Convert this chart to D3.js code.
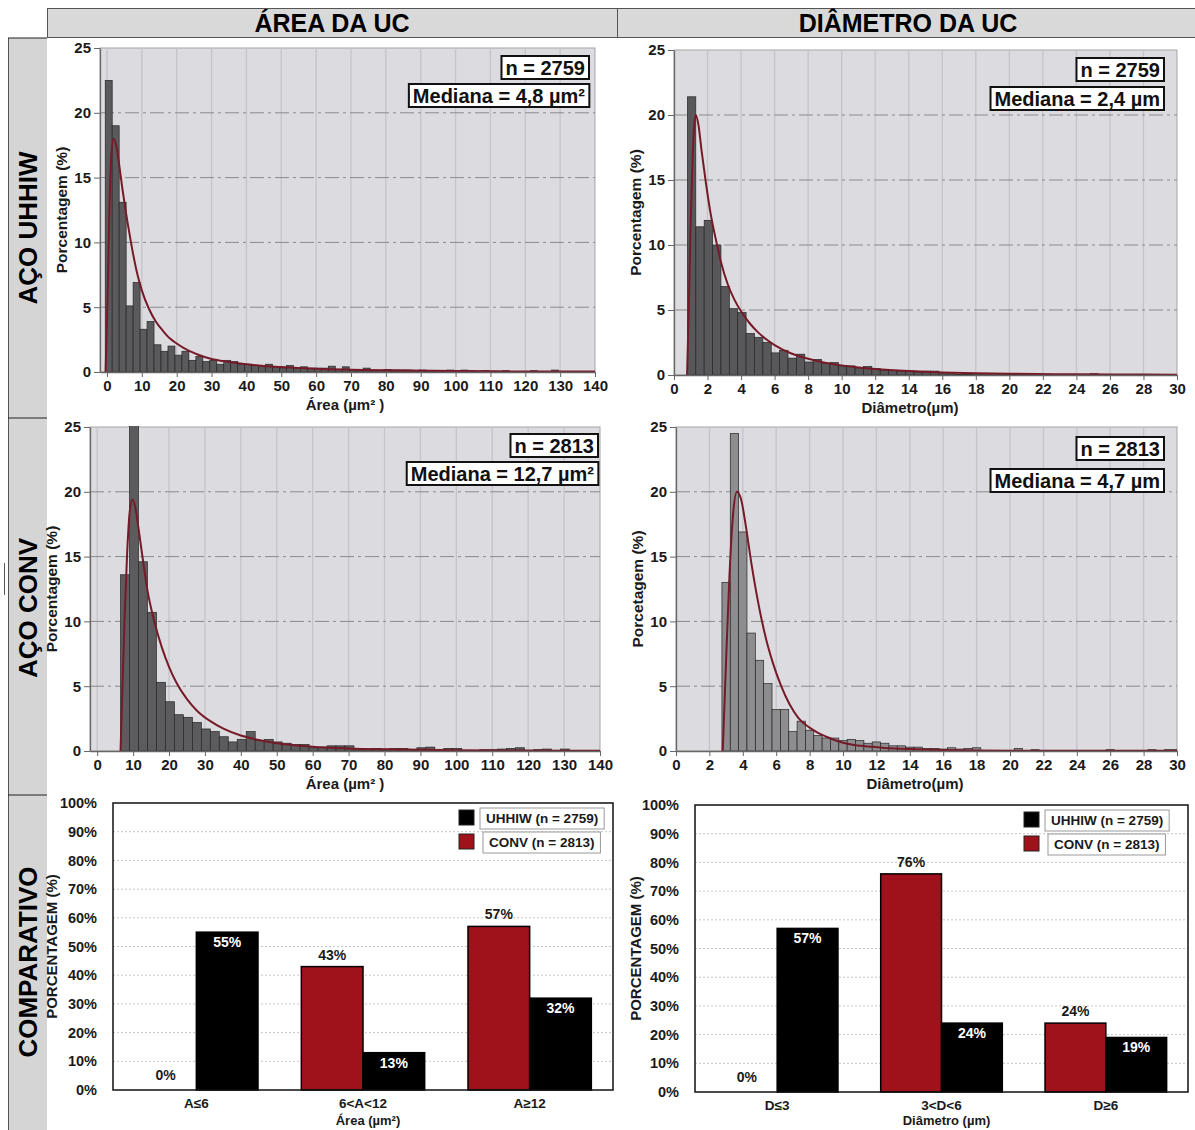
<!DOCTYPE html>
<html>
<head>
<meta charset="utf-8">
<script src="https://cdn.jsdelivr.net/npm/d3@7"></script>
<style>
  body { margin: 0; background: #fff; }
  text { font-family: "Liberation Sans", Arial, Helvetica, sans-serif; font-weight: bold; }
</style>
</head>
<body>
<svg id="fig" width="1195" height="1130"></svg>
<script>
// ---- histogram data (percent per bin) ----
const areaTicks = d3.range(0, 141, 10);
const diamTicks = d3.range(0, 31, 2);
const pctTicks = [0, 5, 10, 15, 20, 25];

// AÇO UHHIW - área, bins of 2 µm² from -0.5
const areaUhhiwStart = -0.5, areaUhhiwWidth = 2;
const areaUhhiwPct = [22.5, 19.0, 13.1, 5.1, 6.9, 3.3, 3.9, 2.1, 1.6, 2.0,
  1.3, 1.6, 0.9, 1.2, 0.8, 0.9, 0.6, 0.9, 0.8, 0.6,
  0.6, 0.5, 0.5, 0.6, 0.4, 0.3, 0.5, 0.3, 0.4, 0.3,
  0.3, 0.3, 0.45, 0.2, 0.4, 0.2, 0.2, 0.3, 0.15, 0.15,
  0.2, 0.15, 0.15, 0.15, 0.1, 0.15, 0.1, 0.1, 0.1, 0.15,
  0.1, 0.15, 0.1, 0.05, 0.1, 0.05, 0.05, 0.1, 0.05, 0.05,
  0.05, 0.1, 0.05, 0.05, 0.15, 0.05, 0.05, 0.05, 0.05, 0.05];
const areaUhhiwFit = [[-0.4, 0], [0.2, 6], [0.7, 12.5], [1.2, 16.5], [1.9, 18], [2.7, 17.4], [3.5, 16],
  [4.5, 14], [5.5, 12.2], [6.5, 10.6], [7.5, 9.1], [8.5, 7.8], [10, 6.3], [12, 4.9], [14, 3.9],
  [16, 3.2], [18, 2.6], [20, 2.2], [23, 1.7], [26, 1.35], [30, 1.0], [35, 0.78], [40, 0.6],
  [45, 0.47], [50, 0.38], [60, 0.25], [70, 0.18], [80, 0.13], [100, 0.07], [120, 0.04], [140, 0.03]];

// AÇO UHHIW - diâmetro, bins of 0.5 µm from 0.8
const diamUhhiwStart = 0.8, diamUhhiwWidth = 0.5;
const diamUhhiwPct = [21.4, 11.4, 11.9, 10.0, 6.8, 5.1, 4.8, 3.2, 2.9, 2.5,
  1.7, 1.9, 1.3, 1.6, 1.0, 1.2, 0.9, 0.95, 0.7, 0.7,
  0.55, 0.65, 0.5, 0.35, 0.35, 0.3, 0.3, 0.2, 0.3, 0.3,
  0.1, 0.1, 0.05, 0.05, 0.1, 0.12, 0.1, 0.08, 0.05, 0.05,
  0.03, 0.1, 0.05, 0.03, 0.03, 0.02, 0.02, 0.02, 0.1, 0.02,
  0.02, 0.02, 0.02, 0.02, 0.02, 0.02, 0.02, 0.02];
const diamUhhiwFit = [[0.78, 0], [0.88, 5], [0.98, 11], [1.08, 15.5], [1.18, 18.7], [1.3, 20], [1.45, 19.3],
  [1.65, 17.2], [1.9, 14.8], [2.2, 12.3], [2.5, 10.4], [2.8, 8.7], [3.2, 7], [3.6, 5.8], [4, 4.9],
  [4.5, 4.0], [5, 3.3], [5.5, 2.75], [6, 2.3], [7, 1.65], [8, 1.25], [9, 0.95], [10, 0.74],
  [11, 0.58], [12, 0.46], [14, 0.3], [16, 0.2], [18, 0.14], [20, 0.1], [24, 0.05], [28, 0.03], [30, 0.02]];

// AÇO CONV - área, bins of 2.5 µm² from 6.5
const areaConvStart = 6.5, areaConvWidth = 2.5;
const areaConvPct = [13.6, 25.3, 14.6, 10.7, 5.3, 3.8, 2.8, 2.6, 2.2, 1.7,
  1.5, 1.1, 0.7, 0.9, 1.5, 0.8, 0.9, 0.7, 0.6, 0.5,
  0.5, 0.25, 0.3, 0.4, 0.4, 0.4, 0.2, 0.15, 0.2, 0.15,
  0.2, 0.2, 0.1, 0.25, 0.3, 0.1, 0.2, 0.2, 0.05, 0.05,
  0.1, 0.1, 0.15, 0.2, 0.25, 0.05, 0.1, 0.15, 0.05, 0.15,
  0.05, 0.02, 0.02];
const areaConvFit = [[6.5, 0], [7, 4.5], [7.6, 10], [8.3, 15], [9, 18.3], [9.8, 19.4], [10.6, 18.8],
  [11.5, 17.2], [12.5, 15.2], [14, 12.4], [16, 9.9], [18, 8], [20, 6.5], [22, 5.3], [25, 4],
  [28, 3.05], [31.5, 2.3], [35, 1.75], [40, 1.2], [45, 0.85], [50, 0.6], [55, 0.45], [60, 0.33],
  [70, 0.2], [80, 0.13], [100, 0.06], [120, 0.035], [140, 0.02]];

// AÇO CONV - diâmetro, bins of 0.5 µm from 2.75
const diamConvStart = 2.75, diamConvWidth = 0.5;
const diamConvPct = [13.0, 24.5, 16.9, 9.1, 7.0, 5.2, 3.2, 3.2, 1.5, 2.3,
  1.6, 1.2, 1.0, 1.0, 0.8, 0.9, 0.8, 0.6, 0.7, 0.6,
  0.4, 0.4, 0.3, 0.3, 0.2, 0.2, 0.15, 0.25, 0.15, 0.2,
  0.25, 0.05, 0.03, 0.03, 0.03, 0.2, 0.03, 0.1, 0.03, 0.05,
  0.02, 0.02, 0.02, 0.02, 0.05, 0.02, 0.1, 0.02, 0.02, 0.02,
  0.02, 0.1, 0.02, 0.1, 0.1];
const diamConvFit = [[2.8, 0], [3.0, 7], [3.2, 13.5], [3.4, 18], [3.65, 20], [3.9, 19.4], [4.2, 17.2],
  [4.5, 14.6], [4.8, 12.3], [5.1, 10.3], [5.4, 8.6], [5.8, 6.8], [6.3, 5.0], [6.8, 3.6], [7.3, 2.6],
  [8, 1.8], [8.5, 1.4], [9, 1.1], [9.7, 0.75], [10.5, 0.5], [11.5, 0.34], [12.5, 0.24], [14, 0.15],
  [16, 0.08], [18, 0.04], [22, 0.02], [30, 0.01]];

// ---- comparison data ----
const seriesNames = ["CONV", "UHHIW"];
const seriesLegend = ["UHHIW (n = 2759)", "CONV (n = 2813)"];
const areaCats = ["A≤6", "6<A<12", "A≥12"];
const areaCompUhhiw = [55, 13, 32];
const areaCompConv = [0, 43, 57];
const diamCats = ["D≤3", "3<D<6", "D≥6"];
const diamCompUhhiw = [57, 24, 19];
const diamCompConv = [0, 76, 24];

const svg = d3.select("#fig");
const RED = "#a0121b";

// ---- frame: headers and row labels ----
svg.append("rect").attr("x", 8).attr("y", 38).attr("width", 39).attr("height", 1100).attr("fill", "#d5d5d5");
svg.append("line").attr("x1", 8.5).attr("x2", 8.5).attr("y1", 38).attr("y2", 1130).attr("stroke", "#555");
[38, 418, 795].forEach(yy => {
  svg.append("line").attr("x1", 8).attr("x2", 47).attr("y1", yy).attr("y2", yy).attr("stroke", "#222").attr("stroke-width", 1.2);
});
svg.append("line").attr("x1", 4.5).attr("x2", 4.5).attr("y1", 563).attr("y2", 595).attr("stroke", "#556").attr("stroke-width", 1);

svg.append("rect").attr("x", 47.5).attr("y", 8.5).attr("width", 570).attr("height", 29).attr("fill", "#d9d9d9").attr("stroke", "#555");
svg.append("rect").attr("x", 617.5).attr("y", 8.5).attr("width", 590).attr("height", 29).attr("fill", "#d9d9d9").attr("stroke", "#555");
svg.append("text").attr("x", 332).attr("y", 32).attr("text-anchor", "middle").attr("font-size", 25).text("ÁREA DA UC");
svg.append("text").attr("x", 908).attr("y", 32).attr("text-anchor", "middle").attr("font-size", 25).text("DIÂMETRO DA UC");

[["AÇO UHHIW", 228], ["AÇO CONV", 608], ["COMPARATIVO", 962]].forEach(([t, cy]) => {
  svg.append("text").attr("transform", `translate(37,${cy}) rotate(-90)`)
    .attr("text-anchor", "middle").attr("font-size", 26).text(t);
});

// ---- histogram panels ----
function histPanel(o) {
  const x = d3.scaleLinear().domain(o.xDomain).range([o.left, o.right]);
  const y = d3.scaleLinear().domain([0, 25]).range([o.bottom, o.top]);
  const g = svg.append("g");
  const clipId = "clip-" + o.id;

  g.append("clipPath").attr("id", clipId).append("rect")
    .attr("x", o.left).attr("y", o.top - 1)
    .attr("width", o.right - o.left).attr("height", o.bottom - o.top + 1);

  g.append("rect")
    .attr("x", o.left).attr("y", o.top)
    .attr("width", o.right - o.left).attr("height", o.bottom - o.top)
    .attr("fill", "#dcdbe0").attr("stroke", "#a5a5a5");

  // vertical grid
  g.selectAll(".vgrid").data(o.ticks.filter(d => x(d) > o.left + 1 && x(d) < o.right - 1))
    .join("line")
    .attr("x1", d => x(d)).attr("x2", d => x(d))
    .attr("y1", o.top).attr("y2", o.bottom)
    .attr("stroke", "#c4c4c9").attr("stroke-width", 1.3);

  // horizontal dash-dot grid
  g.selectAll(".hgrid").data([5, 10, 15, 20])
    .join("line")
    .attr("x1", o.left).attr("x2", o.right)
    .attr("y1", d => y(d)).attr("y2", d => y(d))
    .attr("stroke", "#8a8a8a").attr("stroke-width", 1)
    .attr("stroke-dasharray", "14,4,3,4");

  const bins = o.values.map((v, i) => ({
    x0: o.binStart + i * o.binWidth,
    x1: o.binStart + (i + 1) * o.binWidth,
    v: v
  }));

  g.append("g").attr("clip-path", `url(#${clipId})`)
    .selectAll("rect").data(bins).join("rect")
    .attr("x", d => x(d.x0))
    .attr("width", d => x(d.x1) - x(d.x0))
    .attr("y", d => y(d.v))
    .attr("height", d => y(0) - y(d.v))
    .attr("fill", o.barColor)
    .attr("stroke", "#262626").attr("stroke-width", 0.7);

  g.append("path").datum(o.fit)
    .attr("clip-path", `url(#${clipId})`)
    .attr("d", d3.line().x(d => x(d[0])).y(d => y(d[1])).curve(d3.curveMonotoneX))
    .attr("fill", "none").attr("stroke", "#761a28").attr("stroke-width", 2);

  // axes
  const xAxis = g.append("g").attr("transform", `translate(0,${o.bottom})`)
    .call(d3.axisBottom(x).tickValues(o.ticks).tickSize(5).tickSizeOuter(0).tickPadding(3));
  const yAxis = g.append("g").attr("transform", `translate(${o.left},0)`)
    .call(d3.axisLeft(y).tickValues(pctTicks).tickSize(6).tickSizeOuter(0).tickPadding(3));
  [xAxis, yAxis].forEach(a => {
    a.attr("font-family", null).attr("font-size", null);
    a.select(".domain").attr("stroke", "#666").attr("stroke-width", 1.3);
    a.selectAll(".tick line").attr("stroke", "#666");
    a.selectAll(".tick text").attr("font-size", 15).attr("fill", "#1a1a1a");
  });

  // axis titles
  g.append("text").attr("x", o.xTitleX).attr("y", o.bottom + 38)
    .attr("text-anchor", "middle").attr("font-size", 15).attr("fill", "#1a1a1a")
    .text(o.xTitle);

  g.append("text")
    .attr("transform", `translate(${o.left - 33},${(o.top + o.bottom) / 2}) rotate(-90)`)
    .attr("text-anchor", "middle").attr("font-size", 15.5).attr("fill", "#1a1a1a")
    .text(o.yTitle);

  // annotation boxes
  [[o.nText, o.nTop], [o.medText, o.medTop]].forEach(([t, top]) => {
    const txt = g.append("text").attr("x", o.boxRight - 4).attr("y", top + 19)
      .attr("text-anchor", "end").attr("font-size", 20).attr("fill", "#111").text(t);
    const bb = txt.node().getBBox();
    g.insert("rect", () => txt.node())
      .attr("x", bb.x - 4).attr("y", top)
      .attr("width", bb.width + 8).attr("height", 23)
      .attr("fill", "#fff").attr("stroke", "#111").attr("stroke-width", 2);
  });
}

histPanel({
  id: "au", xDomain: [-2, 140], left: 100, right: 595, top: 48, bottom: 372,
  ticks: areaTicks, values: areaUhhiwPct, binStart: areaUhhiwStart, binWidth: areaUhhiwWidth,
  fit: areaUhhiwFit, barColor: "#5a5a5c",
  xTitle: "Área (µm² )", xTitleX: 345, yTitle: "Porcentagem (%)",
  nText: "n = 2759", medText: "Mediana = 4,8 µm²", boxRight: 589, nTop: 56, medTop: 84
});
histPanel({
  id: "du", xDomain: [0, 30], left: 674, right: 1177, top: 50, bottom: 375,
  ticks: diamTicks, values: diamUhhiwPct, binStart: diamUhhiwStart, binWidth: diamUhhiwWidth,
  fit: diamUhhiwFit, barColor: "#58585a",
  xTitle: "Diâmetro(µm)", xTitleX: 910, yTitle: "Porcentagem (%)",
  nText: "n = 2759", medText: "Mediana = 2,4 µm", boxRight: 1164, nTop: 58, medTop: 87
});
histPanel({
  id: "ac", xDomain: [-2, 140], left: 90, right: 600, top: 427, bottom: 751,
  ticks: areaTicks, values: areaConvPct, binStart: areaConvStart, binWidth: areaConvWidth,
  fit: areaConvFit, barColor: "#5c5c5e",
  xTitle: "Área (µm² )", xTitleX: 345, yTitle: "Porcentagem (%)",
  nText: "n = 2813", medText: "Mediana = 12,7 µm²", boxRight: 598, nTop: 434, medTop: 462
});
histPanel({
  id: "dc", xDomain: [0, 30], left: 676, right: 1177, top: 427, bottom: 751,
  ticks: diamTicks, values: diamConvPct, binStart: diamConvStart, binWidth: diamConvWidth,
  fit: diamConvFit, barColor: "#8d8d90",
  xTitle: "Diâmetro(µm)", xTitleX: 915, yTitle: "Porcetagem (%)",
  nText: "n = 2813", medText: "Mediana = 4,7 µm", boxRight: 1164, nTop: 437, medTop: 469
});

// ---- comparison panels ----
function compPanel(o) {
  const x0 = d3.scaleBand().domain(o.cats).range([o.left, o.right]).paddingInner(0.26).paddingOuter(0.13);
  const x1 = d3.scaleBand().domain(seriesNames).range([0, x0.bandwidth()]);
  const y = d3.scaleLinear().domain([0, 100]).range([o.bottom, o.top]);
  const g = svg.append("g");

  g.append("rect").attr("x", o.left).attr("y", o.top)
    .attr("width", o.right - o.left).attr("height", o.bottom - o.top).attr("fill", "#fff");

  g.selectAll(".grid").data(d3.range(10, 100, 10)).join("line")
    .attr("x1", o.left).attr("x2", o.right)
    .attr("y1", d => y(d)).attr("y2", d => y(d))
    .attr("stroke", "#c6c6c6").attr("stroke-width", 1).attr("stroke-dasharray", "2,2");

  const rows = o.cats.map((c, i) => [
    { cat: c, s: "CONV", v: o.conv[i] },
    { cat: c, s: "UHHIW", v: o.uhhiw[i] }
  ]).flat();

  g.selectAll(".bar").data(rows.filter(d => d.v > 0)).join("rect")
    .attr("x", d => x0(d.cat) + x1(d.s))
    .attr("width", x1.bandwidth())
    .attr("y", d => y(d.v))
    .attr("height", d => y(0) - y(d.v))
    .attr("fill", d => d.s === "CONV" ? RED : "#000")
    .attr("stroke", "#000").attr("stroke-width", 1.5);

  g.append("rect").attr("x", o.left).attr("y", o.top)
    .attr("width", o.right - o.left).attr("height", o.bottom - o.top)
    .attr("fill", "none").attr("stroke", "#111").attr("stroke-width", 1.5);

  g.selectAll(".lbl").data(rows).join("text")
    .attr("x", d => x0(d.cat) + x1(d.s) + x1.bandwidth() / 2)
    .attr("y", d => d.s === "CONV" ? y(d.v) - (d.v === 0 ? 10 : 7) : y(d.v) + 15)
    .attr("text-anchor", "middle").attr("font-size", 14)
    .attr("fill", d => d.s === "CONV" ? "#1a1a1a" : "#fff")
    .text(d => d.v + "%");

  const yAxis = g.append("g").attr("transform", `translate(${o.left},0)`)
    .call(d3.axisLeft(y).tickValues(d3.range(0, 101, 10)).tickFormat(d => d + "%").tickSize(0).tickPadding(16));
  yAxis.attr("font-family", null).attr("font-size", null);
  yAxis.select(".domain").remove();
  yAxis.selectAll(".tick text").attr("font-size", 14.5).attr("fill", "#1a1a1a");

  g.selectAll(".cat").data(o.cats).join("text")
    .attr("x", d => x0(d) + x0.bandwidth() / 2).attr("y", o.bottom + 18)
    .attr("text-anchor", "middle").attr("font-size", 13.5).attr("fill", "#1a1a1a")
    .text(d => d);

  g.append("text").attr("x", (o.left + o.right) / 2 + 5).attr("y", 1125)
    .attr("text-anchor", "middle").attr("font-size", 13).attr("fill", "#1a1a1a")
    .text(o.xTitle);

  g.append("text")
    .attr("transform", `translate(${o.yTitleX},${(o.top + o.bottom) / 2}) rotate(-90)`)
    .attr("text-anchor", "middle").attr("font-size", 15).attr("fill", "#1a1a1a")
    .text("PORCENTAGEM (%)");

  // legend
  const legColors = ["#000", RED];
  seriesLegend.forEach((t, i) => {
    const ly = o.top + 5 + i * 24;
    g.append("rect").attr("x", o.legX).attr("y", ly + 2).attr("width", 15).attr("height", 15)
      .attr("fill", legColors[i]).attr("stroke", "#222");
    const txt = g.append("text").attr("x", o.legX + 27 + i * 3).attr("y", ly + 15)
      .attr("font-size", 13.5).attr("fill", "#1a1a1a").text(t);
    const bb = txt.node().getBBox();
    g.insert("rect", () => txt.node())
      .attr("x", bb.x - 6).attr("y", ly)
      .attr("width", bb.width + 12).attr("height", 21)
      .attr("fill", "#fff").attr("stroke", "#9a9a9a");
  });
}

compPanel({
  cats: areaCats, uhhiw: areaCompUhhiw, conv: areaCompConv,
  left: 113, right: 613, top: 803, bottom: 1090,
  xTitle: "Área (µm²)", yTitleX: 57, legX: 459
});
compPanel({
  cats: diamCats, uhhiw: diamCompUhhiw, conv: diamCompConv,
  left: 695, right: 1188, top: 805, bottom: 1092,
  xTitle: "Diâmetro (µm)", yTitleX: 641, legX: 1024
});
</script>
</body>
</html>
